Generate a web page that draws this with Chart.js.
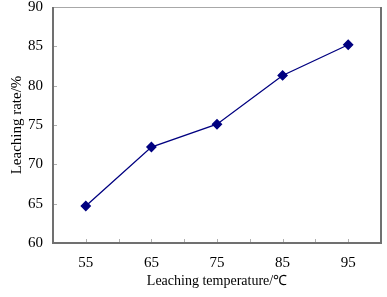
<!DOCTYPE html>
<html lang="en">
<head>
    <meta charset="UTF-8">
    <title>Leaching rate vs temperature</title>
    <style>
        body {
            margin: 0;
            padding: 0;
            background: #ffffff;
        }

        #chart-box {
            width: 387px;
            height: 297px;
        }
    </style>
</head>
<body>
<div id="chart-box">
    <canvas id="leach-chart" width="387" height="297"></canvas>
</div>

<script src="https://cdn.jsdelivr.net/npm/chart.js"></script>
<script>
    // data
    var temperatures = [55, 65, 75, 85, 95];
    var leachRates = [64.7, 72.2, 75.1, 81.3, 85.2];
    var xLabels = [55, 65, 75, 85, 95];
    var yTicks = [60, 65, 70, 75, 80, 85, 90];

    var points = temperatures.map(function (t, i) {
        return {x: t, y: leachRates[i]};
    });

    // frame round the plot area plus small inward tick marks
    var framePlugin = {
        id: 'frame',
        afterDatasetsDraw: function (chart) {
            var ctx = chart.ctx;
            var a = chart.chartArea;
            var xs = chart.scales.x;
            var ys = chart.scales.y;
            ctx.save();
            ctx.strokeStyle = '#b0b0b0';
            ctx.lineWidth = 1;
            ctx.beginPath();
            xs.ticks.forEach(function (t) {
                var px = Math.round(xs.getPixelForValue(t.value)) + 0.5;
                ctx.moveTo(px, a.bottom);
                ctx.lineTo(px, a.bottom - 4);
            });
            ys.ticks.forEach(function (t) {
                var py = Math.round(ys.getPixelForValue(t.value)) + 0.5;
                ctx.moveTo(a.left, py);
                ctx.lineTo(a.left + 4, py);
            });
            ctx.stroke();

            ctx.strokeStyle = '#a8a8a8';
            ctx.beginPath();
            ctx.moveTo(a.left, a.top + 0.5);
            ctx.lineTo(a.right, a.top + 0.5);
            ctx.stroke();

            ctx.strokeStyle = '#707070';
            ctx.lineWidth = 2;
            ctx.beginPath();
            ctx.moveTo(a.left, a.top);
            ctx.lineTo(a.left, a.bottom);
            ctx.lineTo(a.right, a.bottom);
            ctx.lineTo(a.right, a.top);
            ctx.stroke();
            ctx.restore();
        }
    };

    var whiteBg = {
        id: 'whiteBg',
        beforeDraw: function (chart) {
            var ctx = chart.ctx;
            ctx.save();
            ctx.fillStyle = '#ffffff';
            ctx.fillRect(0, 0, chart.width, chart.height);
            ctx.restore();
        }
    };

    var serif = 'Liberation Serif, Times New Roman, serif';

    new Chart(document.getElementById('leach-chart').getContext('2d'), {
        type: 'line',
        data: {
            datasets: [{
                label: 'Leaching rate',
                data: points,
                borderColor: '#000080',
                backgroundColor: '#000080',
                borderWidth: 1.3,
                pointStyle: 'rectRot',
                pointRadius: 4.5,
                pointHoverRadius: 4.5,
                tension: 0
            }]
        },
        options: {
            responsive: false,
            animation: false,
            events: [],
            layout: {padding: {top: 7, right: 6, bottom: 0, left: 0}},
            plugins: {
                legend: {display: false},
                tooltip: {enabled: false}
            },
            scales: {
                x: {
                    type: 'linear',
                    min: 50,
                    max: 100,
                    afterFit: function (s) {
                        s.height = 54;
                        s.paddingLeft = 0;
                        s.paddingRight = 0;
                    },
                    afterBuildTicks: function (s) {
                        var t = [];
                        for (var v = 50; v <= 100; v += 5) t.push({value: v});
                        s.ticks = t;
                    },
                    ticks: {
                        autoSkip: false,
                        maxRotation: 0,
                        padding: 11,
                        color: '#000000',
                        font: {family: serif, size: 15},
                        callback: function (v) {
                            return xLabels.indexOf(v) >= 0 ? String(v) : '';
                        }
                    },
                    grid: {display: false, drawTicks: false},
                    border: {display: false},
                    title: {
                        display: true,
                        text: 'Leaching temperature/℃',
                        color: '#000000',
                        font: {family: serif, size: 14},
                        padding: {top: 0, bottom: 7}
                    }
                },
                y: {
                    type: 'linear',
                    min: 60,
                    max: 90,
                    afterFit: function (s) {
                        s.width = 53;
                        s.paddingTop = 0;
                        s.paddingBottom = 0;
                    },
                    afterBuildTicks: function (s) {
                        s.ticks = yTicks.map(function (v) { return {value: v}; });
                    },
                    ticks: {
                        padding: 10,
                        color: '#000000',
                        font: {family: serif, size: 15}
                    },
                    grid: {display: false, drawTicks: false},
                    border: {display: false},
                    title: {
                        display: true,
                        text: 'Leaching rate/%',
                        color: '#000000',
                        font: {family: serif, size: 15},
                        padding: {top: 8, bottom: 0}
                    }
                }
            }
        },
        plugins: [whiteBg, framePlugin]
    });
</script>
</body>
</html>
